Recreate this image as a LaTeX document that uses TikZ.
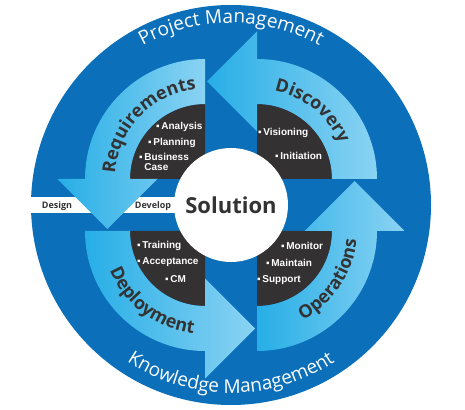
\documentclass[tikz,border=0pt]{standalone}
\usepackage{fontspec}
\setmainfont{Open Sans}
\newfontfamily\listfont{Liberation Sans}
\usetikzlibrary{calc}
\usetikzlibrary{decorations.text}

\definecolor{ringblue}{HTML}{0B6FBA}
\definecolor{flowcyan}{HTML}{27AEE6}
\definecolor{flowlight}{HTML}{8AD3F3}
\definecolor{sectorgray}{HTML}{333132}
\definecolor{labelgray}{HTML}{333333}

\newcommand{\ringfont}{\color{white}\fontsize{19}{19}\selectfont}
\newcommand{\stagefont}{\color{labelgray}\fontsize{18}{18}\selectfont\bfseries}

\begin{document}
\begin{tikzpicture}[x=1pt, y=1pt,
    flow/.style={left color=flowcyan, right color=flowlight, draw=none},
    sector/.style={fill=sectorgray},
    item/.style={anchor=west, inner sep=0pt, text=white, font=\listfont\bfseries\fontsize{10}{10}\selectfont},
    tab/.style={inner sep=0pt, text=labelgray, font=\bfseries\fontsize{9}{9}\selectfont}]
    \useasboundingbox (-231,-204) rectangle (234,205);
    \fill[ringblue] (0,0) circle (200);
    % design / develop strip
    \begin{scope}
        \clip (0,0) circle (200);
        \fill[white] (-205,-8) rectangle (-50,8);
    \end{scope}
    \coordinate (ul) at (-26,26);
    \coordinate (ur) at (26,26);
    \coordinate (ll) at (-26,-26);
    \coordinate (lr) at (26,-26);
    % dark quarters
    \foreach \c/\s in {ur/0, ul/90, ll/180, lr/270}
        \fill[sector] (\c) -- ($(\c)+(\s:75)$) arc[start angle=\s, delta angle=90, radius=75] -- cycle;
    % phase arrows
    \foreach \c/\s [evaluate=\s as \e using \s+90, evaluate=\s as \t using \s+180] in {ur/0, ul/90, ll/180, lr/270}
        \shade[flow] ($(\c)+(\s:120)$) arc[start angle=\s, delta angle=90, radius=120]
            -- ($(\c)+(\e:147.5)$) -- ($(\c)+(\e:97.5)+(\t:50)$) -- ($(\c)+(\e:47.5)$)
            -- ($(\c)+(\e:75)$) arc[start angle=\e, delta angle=-90, radius=75] -- cycle;
    \node[circle, fill=white, minimum size=114pt, inner sep=0pt, text=labelgray,
        font=\bfseries\fontsize{22}{22}\selectfont] (sol) at (0,0) {Solution};
    \node[tab] (design) at (-174,-1) {Design};
    \node[tab] (develop) at (-78,-1) {Develop};
    % bullet lists
    \node[item] (analysis) at (-75,78) {▪\,Analysis};
    \node[item] (planning) at (-83,62) {▪\,Planning};
    \node[item, align=left] (business) at (-92,43.5) {▪\,Business\\\phantom{▪\,}Case};
    \node[item] (visioning) at (27,72) {▪\,Visioning};
    \node[item] (initiation) at (44,49) {▪\,Initiation};
    \node[item] (training) at (-94,-41) {▪\,Training};
    \node[item] (acceptance) at (-94,-57) {▪\,Acceptance};
    \node[item] (cm) at (-66,-74) {▪\,CM};
    \node[item] (monitor) at (50,-41) {▪\,Monitor};
    \node[item] (maintain) at (35,-58) {▪\,Maintain};
    \node[item] (support) at (26,-75) {▪\,Support};
    % curved labels
    \path[decorate, decoration={text along path, text align=center, text={|\stagefont|Requirements}}]
        ($(ul)+(196:90)$) arc[start angle=196, end angle=76, radius=90];
    \path[decorate, decoration={text along path, text align=center, text={|\stagefont|Discovery}}]
        ($(ur)+(111:90)$) arc[start angle=111, end angle=-9, radius=90];
    \path[decorate, decoration={text along path, text align=center, text={|\stagefont|Deployment}}]
        ($(ll)+(173:103)$) arc[start angle=173, end angle=293, radius=103];
    \path[decorate, decoration={text along path, text align=center, text={|\stagefont|Operations}}]
        ($(lr)+(266:100)$) arc[start angle=266, end angle=386, radius=100];
    \path[decorate, decoration={text along path, text align=center, text={|\ringfont|Project Management}}]
        (150:182) arc[start angle=150, end angle=30, radius=182];
    \path[decorate, decoration={text along path, text align=center, text={|\ringfont|Knowledge Management}}]
        (210:188) arc[start angle=210, end angle=330, radius=188];
\end{tikzpicture}
\end{document}
